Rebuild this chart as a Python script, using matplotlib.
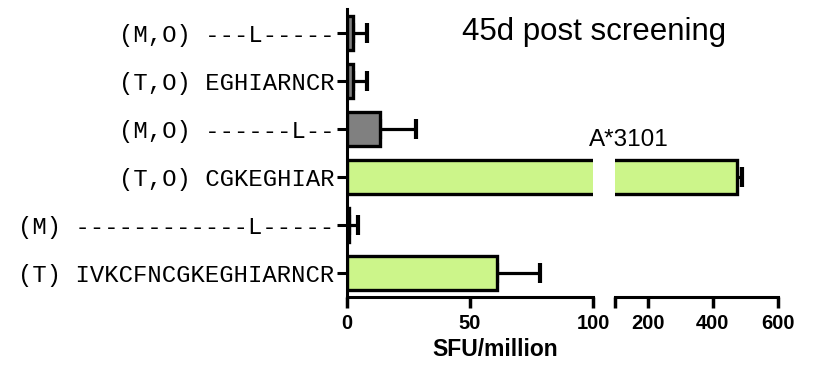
import matplotlib
matplotlib.use("Agg")
import matplotlib.pyplot as plt
import numpy as np

labels = ["(T) IVKCFNCGKEGHIARNCR", "(M) ------------L-----", "(T,O) CGKEGHIAR",
          "(M,O) ------L--", "(T,O) EGHIARNCR", "(M,O) ---L-----"]
means = [61, 1.0, 474, 13.4, 2.4, 2.4]
errors = [17.5, 3.5, 16, 14.6, 5.6, 5.8]
colors = ["#ccf58a", "#808080", "#ccf58a", "#808080", "#808080", "#808080"]
left_ticks = [0, 50, 100]
right_ticks = [100, 200, 400, 600]
right_ticklabels = ["", "200", "400", "600"]

W, H = 817, 365
fig = plt.figure(figsize=(W / 100, H / 100), dpi=100)
ybot, ytop = 297, 9
axL = fig.add_axes([347 / W, 1 - ybot / H, (593 - 347) / W, (ybot - ytop) / H])
axR = fig.add_axes([615 / W, 1 - ybot / H, (778 - 615) / W, (ybot - ytop) / H])

y = np.arange(len(labels))
lw = 2.4
for ax in (axL, axR):
    ax.barh(y, means, height=0.7, color=colors, edgecolor="black", linewidth=lw, zorder=2)
    ax.errorbar(means, y, xerr=[np.zeros(len(means)), errors], fmt="none", ecolor="black",
                elinewidth=2.3, capsize=7, capthick=3, zorder=1)
    ax.set_ylim(-0.5, 5.5)
    for s in ("top", "right"):
        ax.spines[s].set_visible(False)
    ax.spines["bottom"].set_linewidth(2.2)
    ax.spines["left"].set_linewidth(2.2)
    ax.tick_params(axis="x", length=8, width=2.5, pad=4)

tick_font = dict(fontweight="bold", family="Liberation Sans", fontsize=14.5)
axL.set_xlim(0, 100)
axL.set_xticks(left_ticks)
axL.set_xticklabels([str(v) for v in left_ticks], **tick_font)
axL.set_yticks(y)
axL.set_yticklabels(labels, family="Liberation Mono", fontsize=17.2)
axL.tick_params(axis="y", length=7, width=2.2, pad=2)

axR.set_xlim(100, 600)
axR.set_xticks(right_ticks)
axR.set_xticklabels(right_ticklabels, **tick_font)
axR.spines["left"].set_visible(False)
axR.set_yticks([])

fig.text(495 / W, 1 - 350 / H, "SFU/million", fontweight="bold", family="Liberation Sans",
         fontsize=16.5, ha="center", va="center")
fig.text(629 / W, 1 - 140 / H, "A*3101", family="Liberation Sans", fontsize=17.5, ha="center", va="center")
fig.text(594 / W, 1 - 32 / H, "45d post screening", family="Liberation Sans", fontsize=22.5, ha="center", va="center")

fig.savefig("out.png", dpi=100)
